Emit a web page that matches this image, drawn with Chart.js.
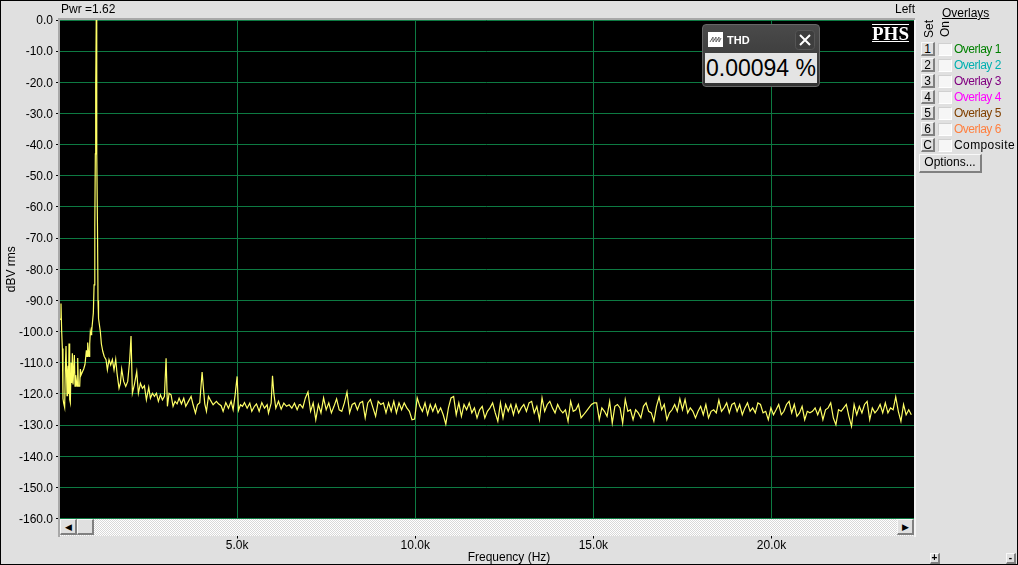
<!DOCTYPE html>
<html>
<head>
<meta charset="utf-8">
<title>THD spectrum</title>
<script src="https://cdn.jsdelivr.net/npm/chart.js@4"></script>
<style>
    html, body { margin: 0; padding: 0; background: #e0e0e0; overflow: hidden; }
    body { width: 1018px; height: 565px; position: relative; font: 12px "Liberation Sans", Arial, sans-serif; color: #000; }
    canvas { position: absolute; left: 0; top: 0; }
    .abs { position: absolute; white-space: nowrap; line-height: 14px; }
    .frame { position: absolute; left: 0; top: 0; width: 1016px; height: 563px; border: 1px solid #000; pointer-events: none; }
    .btn { position: absolute; box-sizing: border-box; background: #e0e0e0; border: 1px solid; border-color: #f8f8f8 #808080 #808080 #f8f8f8; border-width: 1px 2px 2px 1px; text-align: center; line-height: 12px; }
    .check { position: absolute; box-sizing: border-box; width: 14px; height: 13px; background: #f6f6f6; border: 1px solid; border-color: #d0d0d0 #fff #fff #d0d0d0; }
    .scroll { position: absolute; left: 60px; top: 519px; width: 854px; height: 17px; background-color: #fff;
        background-image: conic-gradient(#d8d8d8 25%, #fff 0 50%, #d8d8d8 0 75%, #fff 0); background-size: 2px 2px; }
    .thd { position: absolute; left: 702px; top: 24px; width: 118px; height: 63px; box-sizing: border-box; background: linear-gradient(#4a4a4a, #333); border: 1px solid #666; border-radius: 4px; }
    .thd-value { position: absolute; left: 2px; top: 28px; width: 112px; height: 30px; background: #e4e4e4; text-align: center; font-size: 23px; line-height: 31px; white-space: nowrap; }
</style>
</head>
<body>
<canvas id="spectrum" width="1018" height="565"></canvas>
<div id="chrome"></div>
<script>
// Below ~6.7k the trace is read point by point (spikes and skirt of the fundamental)
const lowFreqs = [19, 37, 56, 75, 94, 112, 131, 159, 178, 197, 225, 240, 253, 267, 281, 300, 318, 340, 356, 375,
    393, 431, 450, 468, 506, 525, 543, 581, 600, 618, 655, 693, 730, 768, 786, 805, 825, 843, 862, 880,
    899, 908, 925, 964, 985, 1005, 1020, 1030, 1045, 1055, 1065, 1080, 1095, 1110, 1160, 1190, 1230, 1270, 1320, 1358,
    1404, 1451, 1498, 1545, 1592, 1629, 1685, 1723, 1760, 1816, 1873, 1929, 1985, 2022, 2060, 2116, 2182, 2228, 2285, 2341,
    2397, 2453, 2519, 2566, 2622, 2678, 2734, 2790, 2846, 2903, 2959, 3006, 3043, 3090, 3146, 3202, 3258, 3315, 3371, 3437,
    3502, 3558, 3633, 3708, 3764, 3830, 3886, 3951, 4017, 4054, 4092, 4139, 4195, 4251, 4326, 4419, 4476, 4551, 4607, 4682,
    4757, 4831, 4888, 4944, 5000, 5037, 5094, 5150, 5206, 5281, 5356, 5412, 5487, 5543, 5618, 5693, 5768, 5843, 5880, 5955,
    5993, 6030, 6086, 6161, 6236, 6311, 6386, 6461, 6536, 6610, 6685, 6742];
const lowLevels = [-96.3, -96, -91, -100, -105.4, -121.5, -123, -124.4, -112, -104.6, -120.6, -113, -111, -120, -103.8, -121.8, -122.8, -110, -116.5, -107,
    -117, -107.5, -117.5, -114, -117.5, -108.5, -117.5, -117.5, -112, -114, -113, -112, -110.5, -106, -108, -103.5, -106, -108, -104, -100,
    -101, -98.6, -100, -94, -85, -66, -43, -21.5, 0, -21.5, -43, -66, -90, -95.8, -100, -104, -106.4, -108, -109, -112.3,
    -109, -110.7, -109, -112.3, -108.9, -113.4, -118.2, -116.6, -112, -116, -117.6, -116, -109, -101.4, -119.8, -117, -112.8, -119.8, -116.6, -118.2,
    -117.4, -121.9, -117.9, -121.4, -119.8, -120.8, -119.8, -122.4, -120.3, -121.9, -120.8, -108.6, -124, -119.8, -120.3, -124, -122.4, -123.2, -121.4, -123.2,
    -121.4, -124, -122.4, -120.8, -123.5, -126.2, -123.5, -122.8, -113, -118.2, -123.2, -125.6, -120.8, -122, -123.5, -122.4, -123.2, -123.8, -125.6, -122.8,
    -124.6, -122.4, -125.1, -120.3, -114.4, -125.3, -123.5, -124, -122.8, -124.6, -123, -125.6, -124, -123.2, -125.6, -122.8, -124.6, -123.5, -126.2, -123,
    -114.2, -119.8, -124.6, -122.4, -124.9, -123, -124, -123.5, -124.6, -123, -125.1, -123.5];

// Noise floor from 6.77k up, one reading per bin
const noiseStartHz = 6770;
const noiseStepHz = 73;
const noiseLevels = [-123.4, -124.5, -121.3, -119.4, -125.6, -122.9, -128.3, -123.4, -126.1, -121.3, -125.1, -122.9, -126.1, -124, -121.6, -125.1, -125.6, -122.9, -119.4, -126.1,
    -123.4, -122.9, -125.1, -122.9, -122.4, -127.7, -122.9, -121.8, -124.5, -127.2, -122.4, -123.4, -122.9, -126.1, -122.9, -125.6, -122.4, -126.1, -122.9, -125.1,
    -122.9, -124.5, -125.6, -128.3, -128.1, -121.3, -124, -125.6, -122.9, -126.7, -123.4, -125.6, -123.4, -126.1, -124.5, -126.7, -129.7, -124.5, -121.3, -120.8,
    -126.7, -122.9, -127.2, -123.4, -125.1, -122.9, -126.1, -124.5, -127.7, -125.1, -124, -127.7, -125.6, -124.5, -122.9, -126.1, -128.8, -122.9, -127.7, -123.4,
    -125.6, -123.4, -126.7, -123.4, -126.1, -124.5, -123.4, -125.6, -122.9, -122.4, -126.1, -124, -128.3, -121.3, -125.6, -123.4, -122.4, -124.5, -126.1, -123.4,
    -125.1, -126.1, -125.1, -128.8, -122.4, -125.6, -125.1, -123.4, -127.7, -126.7, -125.6, -124.5, -123.4, -122.9, -122.9, -128.3,
    -124.5, -125.6, -127.2, -122.4, -129.4, -124, -123.4, -124.5, -129.4, -121.8, -125.6, -125.1, -128.3, -125.1, -126.1, -127.7, -124, -122.9, -125.6, -126.1,
    -128.8, -124, -121, -125.1, -123.4, -128.3, -126.1, -125.1, -123.4, -125.6, -121.6, -125.1, -121.8, -126.1, -124.5, -125.6, -127.7, -125.6, -124, -126.7,
    -123.4, -127.7, -125.6, -125.1, -126.1, -122, -125.6, -124.5, -122.9, -126.1, -123.4, -122.9, -125.6, -123.4, -126.7, -124.5, -122.9, -125.6, -124.5, -126.1,
    -122.9, -123.4, -126.1, -125.6, -128.3, -124.5, -126.7, -125.1, -123.4, -126.7, -125.6, -123.4, -122.4, -126.1, -123.4, -127.2, -126.1, -124, -128.3, -125.6,
    -126.1, -125.6, -124.5, -126.7, -124.5, -128.3, -125.1, -124.5, -122.9, -127.7, -129.9, -125.1, -125.6, -124.5, -123.4, -127.2, -130.4, -123.4, -126.7, -124,
    -126.1, -123.4, -122.4, -128.3, -124.5, -126.1, -125.1, -123.4, -126.1, -122.9, -126.1, -124.5, -125.1, -121, -125.6, -128.8, -123.4, -126.7, -125.1, -126.7];

const yTicks = { min: -160, max: 0, step: 10 };
const xRange = { min: 0, max: 24000 };
const xTickValues = [5000, 10000, 15000, 20000];

const overlayNames = ['Overlay 1', 'Overlay 2', 'Overlay 3', 'Overlay 4', 'Overlay 5', 'Overlay 6', 'Composite'];
const overlayKeys = ['1', '2', '3', '4', '5', '6', 'C'];
const overlayColors = ['#008000', '#00b0b0', '#800080', '#ff00ff', '#804000', '#ff8040', '#000000'];

const gridGreen = '#0d7a42';
const labelFont = { family: '"Liberation Sans", Arial, sans-serif', size: 12 };

const points = lowFreqs.map((f, i) => ({ x: f, y: lowLevels[i] }));
noiseLevels.forEach((db, i) => points.push({ x: noiseStartHz + i * noiseStepHz, y: db }));

new Chart(document.getElementById('spectrum'), {
    type: 'line',
    data: {
        datasets: [{
            data: points,
            borderColor: '#ffff66',
            borderWidth: 1.2,
            pointRadius: 0,
            tension: 0
        }]
    },
    plugins: [{
        // black plot background
        id: 'plotBackground',
        beforeDraw(chart) {
            const a = chart.chartArea;
            chart.ctx.fillStyle = '#000';
            chart.ctx.fillRect(a.left, a.top, a.right - a.left, a.bottom - a.top);
        }
    }],
    options: {
        responsive: false,
        animation: false,
        layout: { padding: { top: 20, right: 104 } },
        plugins: { legend: { display: false }, tooltip: { enabled: false } },
        scales: {
            x: {
                type: 'linear',
                min: xRange.min,
                max: xRange.max,
                // stepSize gets stretched to fit min/max, so set the ticks directly
                afterBuildTicks: axis => { axis.ticks = xTickValues.map(v => ({ value: v })); },
                afterFit: scale => { scale.height = 46.5; },
                border: { display: false },
                grid: { color: gridGreen, tickColor: '#000', tickLength: 20 },
                ticks: {
                    autoSkip: false,
                    maxRotation: 0,
                    padding: 0,
                    color: '#000',
                    font: labelFont,
                    callback: v => (v / 1000).toFixed(1) + 'k'
                }
            },
            y: {
                min: yTicks.min,
                max: yTicks.max,
                afterFit: scale => { scale.width = 59; },
                border: { display: false },
                grid: { color: gridGreen, tickColor: '#000', tickLength: 3 },
                ticks: {
                    stepSize: yTicks.step,
                    autoSkip: false,
                    padding: 3,
                    labelOffset: 1,
                    color: '#000',
                    font: labelFont,
                    callback: v => v.toFixed(1)
                },
                title: { display: true, text: 'dBV rms', color: '#000', font: labelFont, padding: { top: 4, bottom: 0 } }
            }
        }
    }
});

// Window furniture around the plot
function bevel(x, y, w, h, text) {
    return `<div class="btn" style="left:${x}px;top:${y}px;width:${w}px;height:${h}px">${text || ''}</div>`;
}
function label(x, y, text, extra) {
    return `<div class="abs" style="left:${x}px;top:${y}px;${extra || ''}">${text}</div>`;
}

let html = '';
html += '<div class="abs" style="left:58px;top:18px;width:857px;height:2px;background:#a8a8a8"></div>';
html += '<div class="abs" style="left:58px;top:18px;width:2px;height:519px;background:#a8a8a8"></div>';
html += '<div class="abs" style="left:914px;top:20px;width:2px;height:517px;background:#f4f4f4"></div>';
html += '<div class="scroll"></div>';
html += bevel(60, 519, 17, 16, '<span style="font-size:9px">&#9664;</span>');
html += bevel(77, 519, 17, 16);
html += bevel(897, 519, 17, 16, '<span style="font-size:9px">&#9654;</span>');
html += label(61, 2, 'Pwr =1.62');
html += label(895, 2, 'Left');
html += label(942, 6, 'Overlays', 'text-decoration:underline');
html += label(920, 22, 'Set', 'transform:rotate(-90deg)');
html += label(937, 22, 'On', 'transform:rotate(-90deg)');
html += label(466, 550, 'Frequency (Hz)', 'width:86px;text-align:center');

overlayNames.forEach((name, i) => {
    const y = 42 + i * 16;
    const spacing = name === 'Composite' ? '0.4px' : '-0.5px';
    html += bevel(921, y, 14, 14, overlayKeys[i]);
    html += `<div class="check" style="left:938px;top:${y + 1}px"></div>`;
    html += label(954, y, name, `color:${overlayColors[i]};letter-spacing:${spacing}`);
});
html += bevel(919, 154, 63, 19, '<span style="line-height:15px;display:block">Options...</span>');
html += bevel(930, 553, 10, 11, '<span style="font-size:10px;font-weight:bold;line-height:7px;display:block">+</span>');
html += bevel(1006, 553, 10, 11, '<span style="font-size:10px;font-weight:bold;line-height:7px;display:block">-</span>');

// PHS logo
html += '<div class="abs" style="left:872px;top:24px;width:37px;height:16px;border-top:1px solid #fff;border-bottom:1px solid #fff;color:#fff;font:bold 19px/17px \'Liberation Serif\',serif;text-align:center">PHS</div>';

// THD readout
html += `<div class="thd">
    <svg style="position:absolute;left:5px;top:7px" width="15" height="15"><rect width="15" height="15" fill="#fff"/><polyline points="2,10 5,5 5,10 8,5 8,10 11,5 11,10 13,6" fill="none" stroke="#666"/></svg>
    <div class="abs" style="left:24px;top:8px;color:#fff;font-weight:bold;font-size:11px">THD</div>
    <svg style="position:absolute;left:92px;top:5px" width="20" height="20"><rect x=".5" y=".5" width="19" height="19" rx="3" fill="#3e3e3e" stroke="#555"/><path d="M5 5 L15 15 M15 5 L5 15" stroke="#fff" stroke-width="2"/></svg>
    <div class="thd-value">0.00094 %</div>
</div>`;
html += '<div class="frame"></div>';
document.getElementById('chrome').innerHTML = html;
</script>
</body>
</html>
